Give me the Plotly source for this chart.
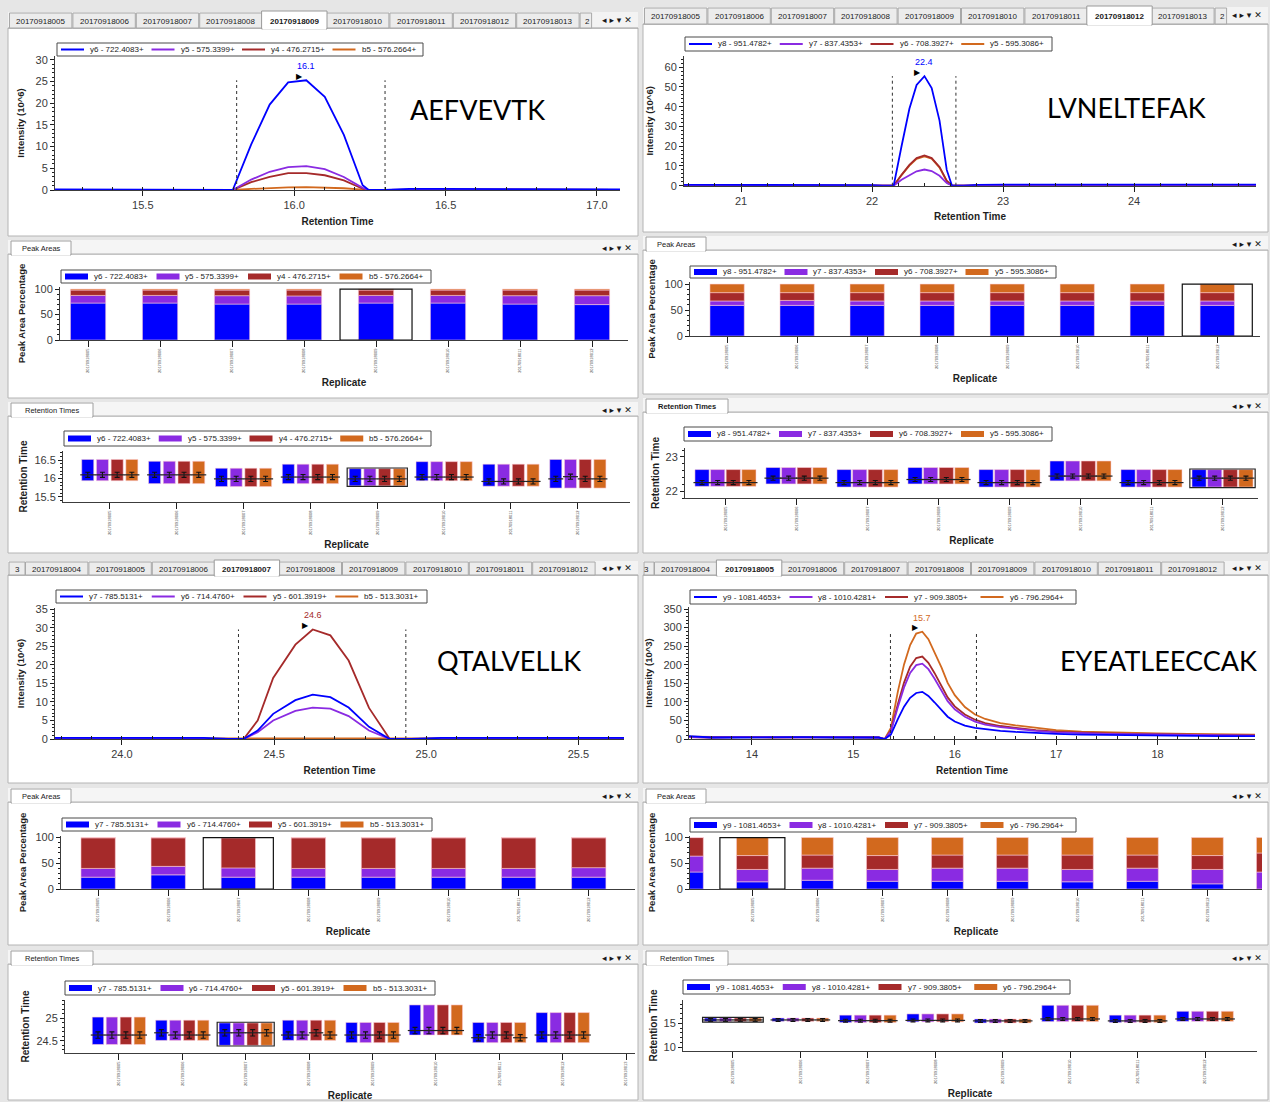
import plotly.graph_objects as go

W, H = 1270, 1102
FONT = "Liberation Sans, Arial, sans-serif"
ION_COLORS = ["#0000FF", "#8A2BE2", "#A52A2A", "#D2691E"]

# ============================ DATA ============================
tabs_top = ["20170918005", "20170918006", "20170918007", "20170918008", "20170918009",
            "20170918010", "20170918011", "20170918012", "20170918013"]
tabs_bottom = ["20170918004", "20170918005", "20170918006", "20170918007", "20170918008",
               "20170918009", "20170918010", "20170918011", "20170918012"]
replicates = ["20170918005", "20170918006", "20170918007", "20170918008",
              "20170918009", "20170918010", "20170918011", "20170918012"]
replicates_9 = replicates + ["20170918013"]
replicates_10 = ["20170918004"] + replicates + ["20170918013"]
peptides = ["AEFVEVTK", "LVNELTEFAK", "QTALVELLK", "EYEATLEECCAK"]

# ---- AEFVEVTK
aef_ions = ["y6 - 722.4083+", "y5 - 575.3399+", "y4 - 476.2715+", "b5 - 576.2664+"]
aef_time = [15.21, 15.35, 15.50, 15.62, 15.68, 15.74, 15.797, 15.858, 15.919, 15.980, 16.040,
            16.101, 16.164, 16.226, 16.246, 16.30, 16.38, 16.50, 16.70, 16.90, 17.076]
aef_y6 = [0.15, 0.15, 0.15, 0.12, 0.0, 0.0, 0.0, 10.5, 19.7, 24.8, 25.3, 21.5, 12.7, 1.1, 0.0,
          0.0, 0.25, 0.25, 0.2, 0.15, 0.15]
aef_y5 = [0.05, 0.05, 0.05, 0.05, 0.03, 0.03, 0.0, 2.4, 4.2, 5.3, 5.5, 4.8, 3.0, 0.5, 0.0,
          0.05, 0.1, 0.1, 0.1, 0.05, 0.05]
aef_y4 = [0.05, 0.05, 0.05, 0.05, 0.03, 0.03, 0.0, 1.8, 3.0, 3.9, 3.9, 3.4, 2.2, 0.3, 0.0,
          0.05, 0.1, 0.1, 0.1, 0.05, 0.05]
aef_b5 = [0.05, 0.05, 0.05, 0.05, 0.03, 0.03, 0.0, 0.25, 0.45, 0.6, 0.65, 0.6, 0.4, 0.1, 0.0,
          0.05, 0.1, 0.1, 0.1, 0.05, 0.05]
aef_bounds = [15.81, 16.30]
aef_apex_text = "16.1"
aef_area_y6 = [72.5, 72.5, 70.5, 70.5, 72.5, 72.5, 70.5, 69.5]
aef_area_y5 = [15.0, 15.0, 16.5, 16.0, 15.0, 15.0, 16.5, 17.5]
aef_area_y4 = [10.5, 10.5, 11.0, 11.5, 10.5, 10.5, 11.0, 11.0]
aef_area_b5 = [2.0, 2.0, 2.0, 2.0, 2.0, 2.0, 2.0, 2.0]
aef_rt_start = [15.94, 15.86, 15.78, 15.86, 15.80, 15.94, 15.79, 15.74]
aef_rt_end = [16.52, 16.47, 16.28, 16.39, 16.27, 16.46, 16.39, 16.52]
aef_rt_apex_y6 = [16.10, 16.10, 15.99, 16.04, 15.99, 16.04, 15.92, 15.99]
aef_rt_apex_y5 = [16.10, 16.10, 15.99, 16.04, 15.99, 16.04, 15.92, 16.05]
aef_rt_apex_y4 = [16.10, 16.10, 15.99, 16.04, 15.99, 16.04, 15.92, 15.99]
aef_rt_apex_b5 = [16.10, 16.10, 15.99, 16.04, 15.99, 16.04, 15.92, 15.99]
aef_rt_fwhm = 0.07

# ---- LVNELTEFAK
lvn_ions = ["y8 - 951.4782+", "y7 - 837.4353+", "y6 - 708.3927+", "y5 - 595.3086+"]
lvn_time = [20.565, 21.0, 21.5, 22.0, 22.08, 22.165, 22.225, 22.285, 22.34, 22.40, 22.455,
            22.515, 22.57, 22.61, 22.70, 22.80, 23.0, 23.5, 24.0, 24.5, 24.93]
lvn_y8 = [0.4, 0.4, 0.4, 0.3, 0.0, 0.0, 20.0, 39.0, 51.0, 55.5, 49.5, 33.0, 8.0, 0.0, 0.0,
          0.4, 0.5, 0.5, 0.5, 0.5, 0.5]
lvn_y7 = [0.1, 0.1, 0.1, 0.1, 0.0, 0.0, 3.0, 5.3, 7.3, 8.2, 7.4, 5.0, 1.3, 0.0, 0.0,
          0.1, 0.1, 0.1, 0.1, 0.1, 0.1]
lvn_y6 = [0.1, 0.1, 0.1, 0.1, 0.0, 0.0, 5.5, 10.5, 14.0, 15.3, 14.0, 9.5, 2.5, 0.0, 0.0,
          0.1, 0.1, 0.1, 0.1, 0.1, 0.1]
lvn_y5 = [0.1, 0.1, 0.1, 0.1, 0.0, 0.0, 5.3, 10.2, 13.6, 14.9, 13.7, 9.2, 2.3, 0.0, 0.0,
          0.1, 0.1, 0.1, 0.1, 0.1, 0.1]
lvn_bounds = [22.155, 22.64]
lvn_apex_text = "22.4"
lvn_area_y8 = [59.0, 59.0, 59.0, 59.0, 59.0, 59.0, 59.0, 59.0]
lvn_area_y7 = [8.5, 9.5, 8.5, 8.5, 8.5, 8.5, 8.5, 8.5]
lvn_area_y6 = [16.0, 15.0, 16.0, 16.0, 16.0, 16.0, 16.0, 16.0]
lvn_area_y5 = [16.5, 16.5, 16.5, 16.5, 16.5, 16.5, 16.5, 16.5]
lvn_rt_start = [22.14, 22.21, 22.12, 22.21, 22.12, 22.30, 22.12, 22.12]
lvn_rt_end = [22.63, 22.69, 22.63, 22.69, 22.63, 22.88, 22.63, 22.63]
lvn_rt_apex = [22.25, 22.38, 22.25, 22.34, 22.25, 22.44, 22.25, 22.38]
lvn_rt_fwhm = 0.06

# ---- QTALVELLK
qta_ions = ["y7 - 785.5131+", "y6 - 714.4760+", "y5 - 601.3919+", "b5 - 513.3031+"]
qta_time = [23.78, 24.0, 24.27, 24.35, 24.40, 24.446, 24.497, 24.57, 24.627, 24.685, 24.745,
            24.812, 24.88, 24.95, 25.05, 25.20, 25.40, 25.65]
qta_y7 = [0.3, 0.3, 0.3, 0.0, 0.0, 2.3, 6.8, 10.5, 12.0, 11.3, 8.5, 3.3, 0.0, 0.0, 0.3, 0.3, 0.3, 0.3]
qta_y6 = [0.1, 0.1, 0.1, 0.0, 0.0, 1.8, 5.0, 7.6, 8.5, 8.2, 6.2, 2.3, 0.0, 0.0, 0.1, 0.1, 0.1, 0.1]
qta_y5 = [0.1, 0.1, 0.1, 0.0, 0.0, 5.0, 16.5, 25.5, 29.6, 28.0, 21.2, 8.4, 0.0, 0.0, 0.1, 0.1, 0.1, 0.1]
qta_b5 = [0.15, 0.15, 0.2, 0.2, 0.1, 0.15, 0.2, 0.2, 0.2, 0.2, 0.2, 0.15, 0.1, 0.2, 0.2, 0.15, 0.15, 0.15]
qta_bounds = [24.383, 24.933]
qta_apex_text = "24.6"
qta_area_y7 = [23.0, 27.5, 23.0, 23.0, 23.0, 23.0, 23.0, 23.0]
qta_area_y6 = [17.0, 16.5, 18.0, 17.0, 17.0, 17.0, 17.0, 18.5]
qta_area_y5 = [59.5, 55.5, 58.5, 59.5, 59.5, 59.5, 59.5, 58.0]
qta_area_b5 = [0.5, 0.5, 0.5, 0.5, 0.5, 0.5, 0.5, 0.5]
qta_rt_start = [24.42, 24.51, 24.40, 24.51, 24.46, 24.63, 24.46, 24.46]
qta_rt_end = [25.03, 24.96, 24.90, 24.96, 24.91, 25.30, 24.91, 25.13]
qta_rt_apex_y7 = [24.63, 24.68, 24.68, 24.63, 24.63, 24.73, 24.57, 24.63]
qta_rt_apex_y6 = [24.63, 24.63, 24.68, 24.63, 24.63, 24.73, 24.63, 24.63]
qta_rt_apex_y5 = [24.63, 24.63, 24.68, 24.68, 24.63, 24.73, 24.63, 24.63]
qta_rt_apex_b5 = [24.63, 24.63, 24.68, 24.63, 24.63, 24.73, 24.57, 24.63]
qta_rt_fwhm = 0.07

# ---- EYEATLEECCAK
eye_ions = ["y9 - 1081.4653+", "y8 - 1010.4281+", "y7 - 909.3805+", "y6 - 796.2964+"]
eye_time = [13.38, 13.6, 13.9, 14.2, 14.5, 14.8, 15.1, 15.25, 15.31, 15.37, 15.44, 15.50, 15.56,
            15.62, 15.68, 15.74, 15.80, 15.87, 15.93, 16.00, 16.10, 16.20, 16.30, 16.45, 16.60,
            16.80, 17.00, 17.25, 17.50, 17.75, 18.00, 18.30, 18.60, 18.96]
eye_y9 = [8, 4, 4, 5, 5, 4, 5, 4, 0, 12, 54, 87, 111, 124, 127, 116, 99, 78, 60, 47, 36, 30, 26,
          22, 19, 16, 14, 12, 11, 10, 9, 9, 8, 8]
eye_y8 = [5, 4, 5, 4, 4, 5, 4, 4, 0, 20, 87, 139, 178, 199, 203, 188, 163, 131, 102, 80, 60, 47,
          39, 32, 27, 22, 18, 15, 14, 13, 12, 11, 10, 9]
eye_y7 = [5, 4, 5, 5, 4, 5, 5, 4, 0, 22, 95, 152, 195, 218, 222, 205, 178, 143, 112, 88, 66, 52,
          43, 35, 30, 24, 20, 17, 15, 14, 13, 12, 11, 10]
eye_y6 = [6, 5, 5, 4, 5, 6, 5, 4, 0, 30, 129, 201, 253, 284, 289, 269, 235, 192, 151, 118, 86, 66,
          54, 43, 37, 30, 24, 20, 18, 16, 15, 14, 13, 12]
eye_bounds = [15.366, 16.214]
eye_apex_text = "15.7"
eye_area_y9 = [33.0, 14.0, 17.0, 15.0, 15.0, 15.0, 14.0, 15.0, 10.0, 0.0]
eye_area_y8 = [31.0, 24.0, 23.5, 23.0, 25.5, 25.5, 24.0, 25.5, 28.0, 33.0]
eye_area_y7 = [36.0, 27.0, 25.5, 27.0, 25.5, 25.5, 28.0, 25.5, 27.0, 37.0]
eye_area_y6 = [0.0, 35.0, 34.0, 35.0, 34.0, 34.0, 34.0, 34.0, 35.0, 30.0]
eye_rt_start = [15.37, 15.40, 15.15, 15.30, 15.07, 15.35, 15.15, 15.40]
eye_rt_end = [16.10, 16.10, 16.70, 16.95, 15.90, 18.75, 16.70, 17.50]
eye_rt_apex = [15.70, 15.70, 15.55, 15.60, 15.50, 15.90, 15.50, 15.90]
eye_rt_fwhm = 0.3

# ============================ LAYOUT GEOMETRY (pixels) ============================
QUADS = [
    dict(x0=8, x1=638, tabs=(12, 28), chrom=(28, 236), pa_tab=(240, 254), pa=(254, 398),
         rt_tab=(402, 416), rt=(416, 553), tab_start=9, tab_names=tabs_top, tab_sel=4, partial="right",
         chrom_box=(55, 56, 620, 190), chrom_xr=[15.21, 17.076], chrom_yr=[0, 30.9], xdt=0.5, xmin=0.1,
         xfmt=".1f", ydt=5, ymin=1, ytitle="Intensity (10^6)", chrom_leg=(57, 43, 423, 56),
         pa_box=(60, 287, 628, 340), pa_xr=[-0.39, 7.5], pa_yr=[0, 104], pa_leg=(61, 270, 431, 283),
         rt_box=(63, 451, 630, 502), rt_xr=[-0.7, 7.78], rt_yr=[15.36, 16.75], rt_dt=0.5, rt_min=0.1,
         rt_leg=(64, 431, 431, 446), rt_bw=0.18, pep=(477, 110), rt_bold=False),
    dict(x0=643, x1=1268, tabs=(7, 24), chrom=(24, 232), pa_tab=(236, 250), pa=(250, 394),
         rt_tab=(398, 412), rt=(412, 553), tab_start=644, tab_names=tabs_top, tab_sel=7, partial="right",
         chrom_box=(684, 56, 1256, 185.7), chrom_xr=[20.565, 24.93], chrom_yr=[0, 65.7], xdt=1, xmin=0.2,
         xfmt="d", ydt=10, ymin=2, ytitle="Intensity (10^6)", chrom_leg=(685, 37, 1052, 51),
         pa_box=(690, 282, 1260, 336), pa_xr=[-0.53, 7.61], pa_yr=[0, 104], pa_leg=(690, 266, 1056, 278),
         rt_box=(685, 448, 1258, 498), rt_xr=[-0.57, 7.5], rt_yr=[21.8, 23.26], rt_dt=1, rt_min=0.2,
         rt_leg=(684, 427, 1052, 441), rt_bw=0.2, pep=(1126, 108), rt_bold=True),
    dict(x0=8, x1=638, tabs=(561, 575), chrom=(575, 783), pa_tab=(788, 802), pa=(802, 945),
         rt_tab=(950, 964), rt=(964, 1100), tab_start=25, tab_names=tabs_bottom, tab_sel=3, partial="left",
         chrom_box=(55, 608, 624, 739), chrom_xr=[23.78, 25.65], chrom_yr=[0, 35.4], xdt=0.5, xmin=0.1,
         xfmt=".1f", ydt=5, ymin=1, ytitle="Intensity (10^6)", chrom_leg=(56, 590, 427, 603),
         pa_box=(61, 836, 635, 889), pa_xr=[-0.53, 7.66], pa_yr=[0, 103], pa_leg=(62, 818, 432, 831),
         rt_box=(65, 1000, 635, 1053), rt_xr=[-0.85, 8.14], rt_yr=[24.23, 25.41], rt_dt=0.5, rt_min=0.1,
         rt_leg=(65, 981, 435, 995), rt_bw=0.18, pep=(509, 660), rt_bold=False),
    dict(x0=643, x1=1268, tabs=(561, 575), chrom=(575, 783), pa_tab=(788, 802), pa=(802, 945),
         rt_tab=(950, 964), rt=(964, 1100), tab_start=654, tab_names=tabs_bottom, tab_sel=1, partial="left",
         chrom_box=(689, 607, 1255, 739), chrom_xr=[13.38, 18.96], chrom_yr=[0, 355.6], xdt=1, xmin=0.2,
         xfmt="d", ydt=50, ymin=10, ytitle="Intensity (10^3)", chrom_leg=(690, 590, 1076, 604),
         pa_box=(690, 836, 1262, 889), pa_xr=[0.04, 8.84], pa_yr=[0, 103], pa_leg=(690, 818, 1076, 832),
         rt_box=(683, 1000, 1257, 1051), rt_xr=[-0.74, 7.77], rt_yr=[9.23, 19.85], rt_dt=5, rt_min=1,
         rt_leg=(683, 980, 1070, 994), rt_bw=0.18, pep=(1158, 660), rt_bold=False),
]

PANELS = [
    dict(ions=aef_ions, time=aef_time, series=[aef_y6, aef_y5, aef_y4, aef_b5], bounds=aef_bounds,
         apex_text=aef_apex_text, pa_cats=replicates, pa_ticks=list(range(8)),
         areas=[aef_area_y6, aef_area_y5, aef_area_y4, aef_area_b5], pa_sel=4,
         rt_cats=replicates, rt_start=aef_rt_start, rt_end=aef_rt_end,
         rt_apex=[aef_rt_apex_y6, aef_rt_apex_y5, aef_rt_apex_y4, aef_rt_apex_b5], rt_err=aef_rt_fwhm, rt_sel=4),
    dict(ions=lvn_ions, time=lvn_time, series=[lvn_y8, lvn_y7, lvn_y6, lvn_y5], bounds=lvn_bounds,
         apex_text=lvn_apex_text, pa_cats=replicates, pa_ticks=list(range(8)),
         areas=[lvn_area_y8, lvn_area_y7, lvn_area_y6, lvn_area_y5], pa_sel=7,
         rt_cats=replicates, rt_start=lvn_rt_start, rt_end=lvn_rt_end,
         rt_apex=[lvn_rt_apex] * 4, rt_err=lvn_rt_fwhm, rt_sel=7),
    dict(ions=qta_ions, time=qta_time, series=[qta_y7, qta_y6, qta_y5, qta_b5], bounds=qta_bounds,
         apex_text=qta_apex_text, pa_cats=replicates, pa_ticks=list(range(8)),
         areas=[qta_area_y7, qta_area_y6, qta_area_y5, qta_area_b5], pa_sel=2,
         rt_cats=replicates_9, rt_start=qta_rt_start, rt_end=qta_rt_end,
         rt_apex=[qta_rt_apex_y7, qta_rt_apex_y6, qta_rt_apex_y5, qta_rt_apex_b5], rt_err=qta_rt_fwhm, rt_sel=2),
    dict(ions=eye_ions, time=eye_time, series=[eye_y9, eye_y8, eye_y7, eye_y6], bounds=eye_bounds,
         apex_text=eye_apex_text, pa_cats=replicates_10, pa_ticks=list(range(1, 9)),
         areas=[eye_area_y9, eye_area_y8, eye_area_y7, eye_area_y6], pa_sel=1,
         rt_cats=replicates, rt_start=eye_rt_start, rt_end=eye_rt_end,
         rt_apex=[eye_rt_apex] * 4, rt_err=eye_rt_fwhm, rt_sel=0),
]

# ============================ HELPERS ============================
fig = go.Figure()
lay = {}
shapes, annos = [], []


def X(p):
    return p / W


def Y(p):
    return 1 - p / H


def ids(n):
    return ("x" if n == 1 else f"x{n}", "y" if n == 1 else f"y{n}",
            "xaxis" if n == 1 else f"xaxis{n}", "yaxis" if n == 1 else f"yaxis{n}")


def rect(x0, y0, x1, y1, fill, line=None, lw=1, layer="below"):
    shapes.append(dict(type="rect", xref="paper", yref="paper", x0=X(x0), x1=X(x1), y0=Y(y1), y1=Y(y0),
                       fillcolor=fill, line=dict(color=line if line else "rgba(0,0,0,0)", width=lw if line else 0),
                       layer=layer))


def hline(x0, x1, y, color, width=1, layer="below"):
    shapes.append(dict(type="line", xref="paper", yref="paper", x0=X(x0), x1=X(x1), y0=Y(y), y1=Y(y),
                       line=dict(color=color, width=width), layer=layer))


def label(x, y, s, size=8, color="#1a1a1a", anchor="center", family=FONT):
    annos.append(dict(xref="paper", yref="paper", x=X(x), y=Y(y), text=s, showarrow=False,
                      xanchor=anchor, yanchor="middle", font=dict(family=family, size=size, color=color)))


def axis(**kw):
    d = dict(showline=True, linecolor="#3c3c3c", linewidth=1, showgrid=False, zeroline=False,
             ticks="outside", ticklen=4, tickwidth=1, tickcolor="#1e1e1e",
             tickfont=dict(family=FONT, size=11, color="#3a3a3a"), automargin=False, fixedrange=True)
    d.update(kw)
    return d


def atitle(s, size=10, standoff=4):
    return dict(text=f"<b>{s}</b>", font=dict(family=FONT, size=size, color="#1e1e1e"), standoff=standoff)


def legend_box(box, names, kind):
    x0, y0, x1, y1 = box
    rect(x0, y0, x1, y1, "white", "#4a4a4a", 1, layer="above")
    pitch = (x1 - x0 - 4) / len(names)
    ym = (y0 + y1) / 2
    for i, (nm, col) in enumerate(zip(names, ION_COLORS)):
        sx = x0 + 4 + i * pitch
        if kind == "line":
            hline(sx, sx + 23, ym, col, 2, layer="above")
        else:
            rect(sx, ym - 3, sx + 23, ym + 3, col, layer="above")
        label(sx + 27, ym, nm, size=8, color="#222", anchor="left")


def chrome(g):
    x0, x1 = g["x0"], g["x1"]
    for key in ("chrom", "pa", "rt"):
        a, b = g[key]
        rect(x0, a, x1, b, "white", "#b4b4b4")
    # chromatogram tab strip
    a, b = g["tabs"]
    rect(x0, a, x1, b, "#f3f3f3")
    hline(x0, x1, b, "#9c9c9c", 1)
    tw = 63.4
    st = g["tab_start"]
    names = g["tab_names"]
    if g["partial"] == "left":
        rect(x0 + 1, a + 1, st, b, "#ececec", "#a8a8a8")
        label(st - 3, (a + b) / 2 + 1, "3", 8, anchor="right")
    for i, nm in enumerate(names):
        tx = st + i * tw
        if i == g["tab_sel"]:
            continue
        rect(tx + 0.5, a + 1, tx + tw - 0.5, b, "#ececec", "#a8a8a8")
        label(tx + tw / 2, (a + b) / 2 + 1, nm, 8)
    tx = st + g["tab_sel"] * tw
    rect(tx - 1, a - 1, tx + tw + 1, b + 1, "white", "#9a9a9a")
    hline(tx, tx + tw, b + 0.5, "white", 2)
    label(tx + tw / 2, (a + b) / 2 + 1, f"<b>{names[g['tab_sel']]}</b>", 8)
    if g["partial"] == "right":
        px0 = st + len(names) * tw
        rect(px0 + 0.5, a + 1, px0 + 12, b, "#ececec", "#a8a8a8")
        label(px0 + 3, (a + b) / 2 + 1, "2", 8, anchor="left")
    label(x1 - 21, (a + b) / 2, "◂ ▸ ▾ ✕", 9, family="DejaVu Sans")
    # pane header tabs
    for key, name, w, bold in (("pa_tab", "Peak Areas", 60, False),
                               ("rt_tab", "Retention Times", 82, g["rt_bold"])):
        a, b = g[key]
        rect(x0, a, x1, b, "#f5f5f5")
        hline(x0, x1, b, "#b0b0b0", 1)
        rect(x0 + 3, a + 1, x0 + 3 + w, b + 1, "white", "#a0a0a0")
        hline(x0 + 4, x0 + 2 + w, b + 0.5, "white", 2)
        label(x0 + 3 + w / 2, (a + b) / 2 + 1, f"<b>{name}</b>" if bold else name, 7.5)
        label(x1 - 21, (a + b) / 2 + 1, "◂ ▸ ▾ ✕", 9, family="DejaVu Sans")


def chromatogram(n, g, p):
    xa, ya, xk, yk = ids(n)
    bx0, by0, bx1, by1 = g["chrom_box"]
    for vals, col, nm in reversed(list(zip(p["series"], ION_COLORS, p["ions"]))):
        fig.add_trace(go.Scatter(x=p["time"], y=vals, mode="lines", name=nm,
                                 line=dict(color=col, width=1.8), xaxis=xa, yaxis=ya,
                                 showlegend=False, hoverinfo="skip"))
    top = max(max(v) for v in p["series"])
    bxs, bys = [], []
    for b in p["bounds"]:
        bxs += [b, b, None]
        bys += [0, top, None]
    fig.add_trace(go.Scatter(x=bxs, y=bys, mode="lines", line=dict(color="#303030", width=1, dash="dot"),
                             xaxis=xa, yaxis=ya, showlegend=False, hoverinfo="skip"))
    best = max(range(len(p["series"])), key=lambda j: max(p["series"][j]))
    vals = p["series"][best]
    i = vals.index(max(vals))
    annos.append(dict(xref=xa, yref=ya, x=p["time"][i], y=vals[i], text="▶", showarrow=False,
                      xshift=-7, yshift=4, font=dict(family="DejaVu Sans", size=8, color="#000")))
    annos.append(dict(xref=xa, yref=ya, x=p["time"][i], y=vals[i], text=p["apex_text"], showarrow=False,
                      xshift=0, yshift=14, font=dict(family=FONT, size=9, color=ION_COLORS[best])))
    lay[xk] = axis(domain=[X(bx0), X(bx1)], range=g["chrom_xr"], anchor=ya, dtick=g["xdt"], tick0=0,
                   tickformat=g["xfmt"], ticklen=5,
                   minor=dict(dtick=g["xmin"], tick0=0, ticks="inside", ticklen=3, tickcolor="#1e1e1e"),
                   title=atitle("Retention Time", standoff=7))
    lay[yk] = axis(domain=[Y(by1), Y(by0)], range=g["chrom_yr"], anchor=xa, dtick=g["ydt"], tick0=0,
                   minor=dict(dtick=g["ymin"], tick0=0, ticks="outside", ticklen=2, tickcolor="#1e1e1e"),
                   title=atitle(g["ytitle"], 9.5, standoff=9))
    legend_box(g["chrom_leg"], p["ions"], "line")


def peak_areas(n, g, p):
    xa, ya, xk, yk = ids(n)
    bx0, by0, bx1, by1 = g["pa_box"]
    idx = list(range(len(p["pa_cats"])))
    base = [0.0] * len(idx)
    for vals, col, nm in zip(p["areas"], ION_COLORS, p["ions"]):
        fig.add_trace(go.Bar(x=idx, y=vals, base=base, width=0.49, name=nm,
                             marker=dict(color=col, line=dict(color="rgba(255,205,215,0.8)", width=0.7)),
                             xaxis=xa, yaxis=ya, showlegend=False, hoverinfo="skip"))
        base = [b + v for b, v in zip(base, vals)]
    s = p["pa_sel"]
    shapes.append(dict(type="rect", xref=xa, yref=ya, x0=s - 0.5, x1=s + 0.5, y0=0, y1=100,
                       line=dict(color="#111", width=1.2), fillcolor="rgba(0,0,0,0)", layer="above"))
    lay[xk] = axis(domain=[X(bx0), X(bx1)], range=g["pa_xr"], anchor=ya, tickmode="array",
                   tickvals=p["pa_ticks"], ticktext=[p["pa_cats"][i] for i in p["pa_ticks"]],
                   tickangle=-90, tickfont=dict(family=FONT, size=4, color="#444"), ticklen=6,
                   title=atitle("Replicate", standoff=6))
    lay[yk] = axis(domain=[Y(by1), Y(by0)], range=g["pa_yr"], anchor=xa, dtick=50, tick0=0,
                   minor=dict(dtick=10, tick0=0, ticks="outside", ticklen=2, tickcolor="#1e1e1e"),
                   title=atitle("Peak Area Percentage", 9.5, standoff=7))
    legend_box(g["pa_leg"], p["ions"], "bar")


def retention(n, g, p):
    xa, ya, xk, yk = ids(n)
    bx0, by0, bx1, by1 = g["rt_box"]
    pitch, bw = 0.22, g["rt_bw"]
    nb = len(p["rt_start"])
    cat_px = (bx1 - bx0) / (g["rt_xr"][1] - g["rt_xr"][0])
    heights = [e - s for s, e in zip(p["rt_start"], p["rt_end"])]
    for j, (col, nm) in enumerate(zip(ION_COLORS, p["ions"])):
        xs = [i + (j - 1.5) * pitch for i in range(nb)]
        fig.add_trace(go.Bar(x=xs, y=heights, base=p["rt_start"], width=bw, name=nm,
                             marker=dict(color=col, line=dict(color="rgba(255,205,215,0.8)", width=0.7)),
                             xaxis=xa, yaxis=ya, showlegend=False, hoverinfo="skip"))
    # plotly's line-ew symbol is 1.4x the marker size long
    msize = (bw * cat_px + 3) / 1.4
    for j, ap in enumerate(p["rt_apex"]):
        xs = [i + (j - 1.5) * pitch for i in range(nb)]
        fig.add_trace(go.Scatter(x=xs, y=ap, mode="markers",
                                 marker=dict(symbol="line-ew", size=msize, color="#222",
                                             line=dict(color="#222", width=1.2)),
                                 error_y=dict(type="data", array=[p["rt_err"]] * nb, color="#111",
                                              thickness=1.1, width=2.5),
                                 xaxis=xa, yaxis=ya, showlegend=False, hoverinfo="skip"))
    s = p["rt_sel"]
    pad = 0.012 * (g["rt_yr"][1] - g["rt_yr"][0])
    shapes.append(dict(type="rect", xref=xa, yref=ya, x0=s - 1.5 * pitch - bw / 2 - 0.03,
                       x1=s + 1.5 * pitch + bw / 2 + 0.03, y0=p["rt_start"][s] - pad, y1=p["rt_end"][s] + pad,
                       line=dict(color="#222", width=1.2), fillcolor="rgba(0,0,0,0)", layer="above"))
    lay[xk] = axis(domain=[X(bx0), X(bx1)], range=g["rt_xr"], anchor=ya, tickmode="array",
                   tickvals=list(range(len(p["rt_cats"]))), ticktext=p["rt_cats"],
                   tickangle=-90, tickfont=dict(family=FONT, size=4, color="#444"), ticklen=6,
                   title=atitle("Replicate", standoff=6))
    lay[yk] = axis(domain=[Y(by1), Y(by0)], range=g["rt_yr"], anchor=xa, dtick=g["rt_dt"], tick0=0,
                   minor=dict(dtick=g["rt_min"], tick0=0, ticks="outside", ticklen=2, tickcolor="#1e1e1e"),
                   title=atitle("Retention Time", 10))
    legend_box(g["rt_leg"], p["ions"], "bar")


# ============================ BUILD ============================
for g in QUADS:
    chrome(g)
for q, (g, p) in enumerate(zip(QUADS, PANELS)):
    chromatogram(q * 3 + 1, g, p)
    peak_areas(q * 3 + 2, g, p)
    retention(q * 3 + 3, g, p)
    label(g["pep"][0], g["pep"][1], peptides[q], size=27, color="#000", family="Lato, Noto Sans, sans-serif")

fig.update_layout(width=W, height=H, margin=dict(l=0, r=0, t=0, b=0), autosize=False,
                  paper_bgcolor="#e6e6e6", plot_bgcolor="white", barmode="overlay",
                  showlegend=False, hovermode=False, shapes=shapes, annotations=annos,
                  font=dict(family=FONT), **lay)

fig.write_html("out.html")
